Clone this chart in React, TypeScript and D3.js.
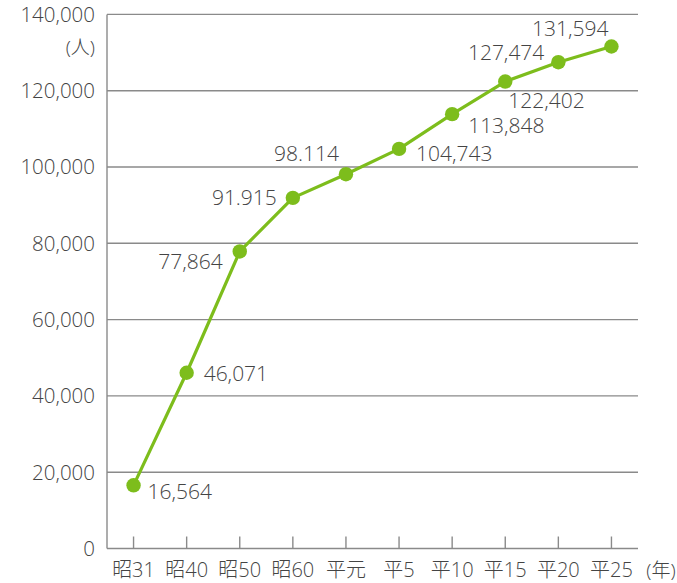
import React from "react";
import * as d3 from "d3";

const categories = ["昭31", "昭40", "昭50", "昭60", "平元", "平5", "平10", "平15", "平20", "平25"];
const values = [16564, 46071, 77864, 91915, 98114, 104743, 113848, 122402, 127474, 131594];
const valueLabels = ["16,564", "46,071", "77,864", "91.915", "98.114", "104,743", "113,848", "122,402", "127,474", "131,594"];
const yTicks = [0, 20000, 40000, 60000, 80000, 100000, 120000, 140000];
// label placement: [dx, dy, anchor]
const labelPos: [number, number, string][] = [
  [14, 6, "start"],
  [17, 1, "start"],
  [-17, 10, "end"],
  [-16, 0, "end"],
  [-7, -21, "end"],
  [17, 5, "start"],
  [16, 11, "start"],
  [3, 19, "start"],
  [-14, -10, "end"],
  [-3, -18, "end"],
];

export default function App() {
  const W = 677, H = 583;
  const left = 107, right = 638, top = 14.4, bottom = 548.5;
  const x = d3.scaleBand<string>().domain(categories).range([left, right]).padding(0);
  const y = d3.scaleLinear().domain([0, 140000]).range([bottom, top]);
  const cx = (c: string) => (x(c) ?? 0) + x.bandwidth() / 2;
  const line = d3.line<number>().x((_, i) => cx(categories[i])).y((d) => y(d));
  const fmt = d3.format(",");
  const font = "'Open Sans', 'Noto Sans CJK JP', sans-serif";
  const textColor = "#444";
  const green = "#7dbd1c";
  return (
    <div style={{ position: "absolute", left: 0, top: 0 }}>
      <svg width={W} height={H} style={{ display: "block", background: "#fff" }} fontFamily={font}>
        {yTicks.filter((t) => t > 0).map((t) => (
          <line key={t} x1={left} x2={right} y1={y(t)} y2={y(t)} stroke="#8a8a8a" strokeWidth={1.4} />
        ))}
        <line x1={left} x2={left} y1={y(140000)} y2={y(0)} stroke="#8a8a8a" strokeWidth={1.4} />
        <line x1={left} x2={right} y1={y(0)} y2={y(0)} stroke="#8a8a8a" strokeWidth={1.6} />
        {categories.map((c) => (
          <line key={c} x1={cx(c)} x2={cx(c)} y1={y(0)} y2={y(0) - 12} stroke="#8a8a8a" strokeWidth={1.4} />
        ))}
        {yTicks.map((t) => (
          <text key={t} x={95} y={y(t)} dy="0.36em" textAnchor="end" fontSize={20.5} fill={textColor} fontWeight={300}>
            {fmt(t)}
          </text>
        ))}
        <text x={95} y={47} dy="0.36em" textAnchor="end" fontSize={19} fill={textColor} fontWeight={300}>(人)</text>
        {categories.map((c) => (
          <text key={c} x={cx(c)} y={570} dy="0.36em" textAnchor="middle" fontSize={20} fill={textColor} fontWeight={300}>
            {c}
          </text>
        ))}
        <text x={661} y={570} dy="0.36em" textAnchor="middle" fontSize={19} fill={textColor} fontWeight={300}>(年)</text>
        <path d={line(values) ?? ""} fill="none" stroke={green} strokeWidth={3.2} strokeLinejoin="round" />
        {values.map((v, i) => (
          <circle key={i} cx={cx(categories[i])} cy={y(v)} r={7.2} fill={green} />
        ))}
        {values.map((v, i) => {
          const [dx, dy, anchor] = labelPos[i];
          return (
            <text key={"l" + i} x={cx(categories[i]) + dx} y={y(v) + dy} dy="0.36em" textAnchor={anchor as any}
              fontSize={21} fill={textColor} fontWeight={300}>
              {valueLabels[i]}
            </text>
          );
        })}
      </svg>
    </div>
  );
}
